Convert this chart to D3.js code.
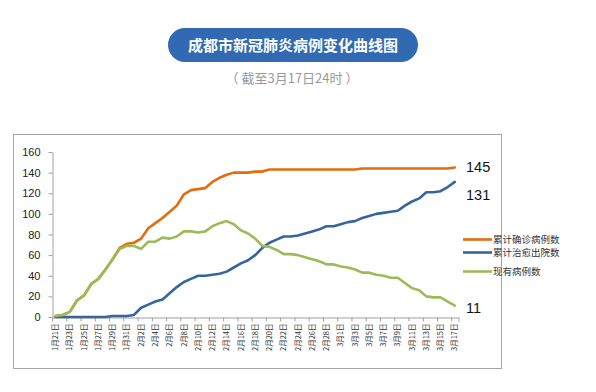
<!DOCTYPE html>
<html>
<head>
<meta charset="utf-8">
<script src="https://cdn.jsdelivr.net/npm/d3@7"></script>
<style>
  html, body { margin: 0; padding: 0; background: #fff; }
  svg { display: block; }
</style>
</head>
<body>
<svg id="chart" width="596" height="392"></svg>
<script>
const title = "成都市新冠肺炎病例变化曲线图";
const subtitle = "（ 截至3月17日24时 ）";

const categories = [
  "1月21日","1月22日","1月23日","1月24日","1月25日","1月26日","1月27日","1月28日","1月29日","1月30日","1月31日",
  "2月1日","2月2日","2月3日","2月4日","2月5日","2月6日","2月7日","2月8日","2月9日","2月10日",
  "2月11日","2月12日","2月13日","2月14日","2月15日","2月16日","2月17日","2月18日","2月19日","2月20日",
  "2月21日","2月22日","2月23日","2月24日","2月25日","2月26日","2月27日","2月28日","2月29日",
  "3月1日","3月2日","3月3日","3月4日","3月5日","3月6日","3月7日","3月8日","3月9日","3月10日",
  "3月11日","3月12日","3月13日","3月14日","3月15日","3月16日","3月17日"
];

const confirmed = [
  1, 2, 5, 16, 21, 32, 37, 46, 56, 67, 71,
  72, 76, 86, 91, 96, 102, 108, 119, 123, 124,
  125, 131, 135, 138, 140, 140, 140, 141, 141, 143,
  143, 143, 143, 143, 143, 143, 143, 143, 143,
  143, 143, 143, 144, 144, 144, 144, 144, 144, 144,
  144, 144, 144, 144, 144, 144, 145
];

const recovered = [
  0, 0, 0, 0, 0, 0, 0, 0, 1, 1, 1,
  2, 9, 12, 15, 17, 23, 29, 34, 37, 40,
  40, 41, 42, 44, 48, 52, 55, 60, 67, 72,
  75, 78, 78, 79, 81, 83, 85, 88, 88,
  90, 92, 93, 96, 98, 100, 101, 102, 103, 108,
  112, 115, 121, 121, 122, 126, 131
];

const existing = [
  1, 2, 5, 16, 21, 32, 37, 46, 56, 66, 69,
  69, 66, 73, 73, 77, 76, 78, 83, 83, 82,
  83, 88, 91, 93, 90, 84, 81, 76, 69, 68,
  65, 61, 61, 60, 58, 56, 54, 51, 51,
  49, 48, 46, 43, 43, 41, 40, 38, 38, 33,
  28, 26, 20, 19, 19, 15, 11
];

const seriesNames = ["累计确诊病例数", "累计治愈出院数", "现有病例数"];
const seriesColors = ["#e46c0a", "#36649e", "#9bbb59"];
const yTicks = [0, 20, 40, 60, 80, 100, 120, 140, 160];

const svg = d3.select("#chart");
const cjk = "'Noto Sans CJK SC', 'Microsoft YaHei', sans-serif";
const latin = "'Liberation Sans', Arial, sans-serif";

// Title pill
svg.append("rect")
  .attr("x", 168).attr("y", 28).attr("width", 250).attr("height", 34)
  .attr("rx", 17).attr("ry", 17)
  .attr("fill", "#3169b3");
svg.append("text")
  .attr("x", 293).attr("y", 46).attr("dy", "0.35em")
  .attr("text-anchor", "middle")
  .attr("font-family", cjk).attr("font-weight", "bold")
  .attr("font-size", 15).attr("fill", "#fff")
  .text(title);
svg.append("text")
  .attr("x", 292).attr("y", 78).attr("dy", "0.35em")
  .attr("text-anchor", "middle")
  .attr("font-family", cjk)
  .attr("font-size", 13).attr("fill", "#9a9a9a")
  .text(subtitle);

// Frame
svg.append("rect")
  .attr("x", 13.5).attr("y", 134.5).attr("width", 488).attr("height", 234)
  .attr("fill", "none").attr("stroke", "#a6a6a6").attr("stroke-width", 1);

const x = d3.scaleBand().domain(categories).range([52, 458.4]).padding(0);
const y = d3.scaleLinear().domain([0, 160]).range([317, 152]);
const cx = c => x(c) + x.bandwidth() / 2;

// Y axis
const yAxis = svg.append("g")
  .attr("transform", "translate(52.5,0)")
  .call(d3.axisLeft(y).tickValues(yTicks).tickSize(4).tickPadding(8).tickSizeOuter(0));
yAxis.select(".domain").attr("stroke", "#a0a0a0");
yAxis.selectAll(".tick line").attr("stroke", "#a0a0a0");
yAxis.selectAll(".tick text")
  .attr("font-family", latin).attr("font-size", 11).attr("fill", "#222");

// X axis
const evenCats = categories.filter((c, i) => i % 2 === 0);
const xAxis = svg.append("g")
  .attr("transform", "translate(0,317.5)")
  .call(d3.axisBottom(x).tickValues(evenCats).tickSize(0).tickSizeOuter(0));
xAxis.select(".domain").attr("stroke", "#a0a0a0");
xAxis.selectAll(".tick text")
  .attr("font-family", cjk).attr("font-size", 7.5).attr("fill", "#333")
  .attr("transform", "rotate(-90)")
  .attr("text-anchor", "end")
  .attr("x", -6).attr("y", 0).attr("dy", "0.35em");
// tick marks at category boundaries every 2 categories
svg.append("g").selectAll("line")
  .data(evenCats.concat([null]))
  .join("line")
  .attr("x1", d => (d === null ? x.range()[1] : x(d)) + 0.5)
  .attr("x2", d => (d === null ? x.range()[1] : x(d)) + 0.5)
  .attr("y1", 317.5).attr("y2", 321.5)
  .attr("stroke", "#a0a0a0");

// Lines
const seriesData = [confirmed, recovered, existing];
const line = d3.line()
  .x((d, i) => cx(categories[i]))
  .y(d => y(d));
seriesData.forEach((vals, k) => {
  svg.append("path")
    .datum(vals)
    .attr("d", line)
    .attr("fill", "none")
    .attr("stroke", seriesColors[k])
    .attr("stroke-width", 2.6)
    .attr("stroke-linejoin", "round")
    .attr("stroke-linecap", "round");
});

// End value labels
const endLabelY = [167, 195, 308];
seriesData.forEach((vals, k) => {
  svg.append("text")
    .attr("x", 466).attr("y", endLabelY[k]).attr("dy", "0.35em")
    .attr("font-family", latin).attr("font-size", 14.5).attr("fill", "#111")
    .text(vals[vals.length - 1]);
});

// Legend
const legendY = [239.5, 252.5, 271.5];
seriesNames.forEach((name, k) => {
  svg.append("line")
    .attr("x1", 463).attr("x2", 492)
    .attr("y1", legendY[k]).attr("y2", legendY[k])
    .attr("stroke", seriesColors[k]).attr("stroke-width", 2.6);
  svg.append("text")
    .attr("x", 493).attr("y", legendY[k]).attr("dy", "0.35em")
    .attr("font-family", cjk).attr("font-size", 9.5).attr("fill", "#333")
    .text(name);
});
</script>
</body>
</html>
